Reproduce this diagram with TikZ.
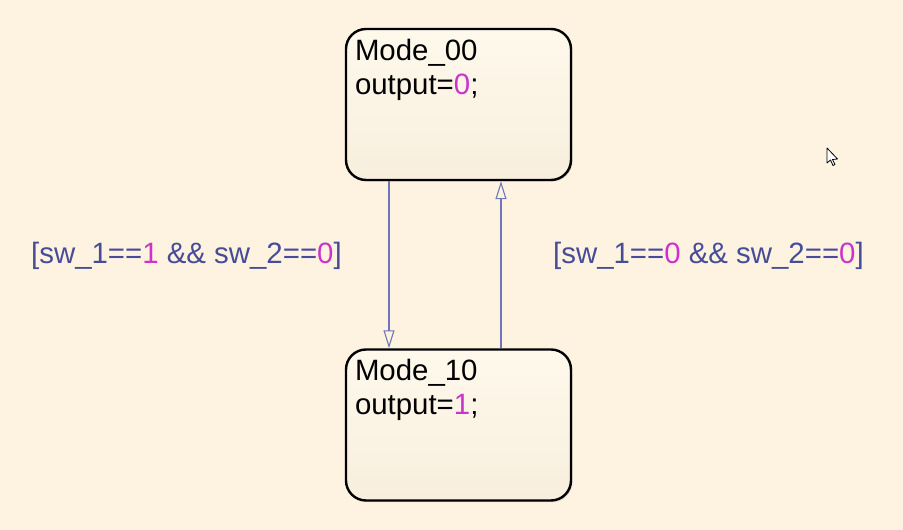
\documentclass[tikz,border=0pt]{standalone}
\usepackage{fontspec}
\setmainfont{Liberation Sans}
\usetikzlibrary{arrows.meta,shadows}
\definecolor{paper}{RGB}{254,243,224}
\definecolor{boxtop}{RGB}{255,249,236}
\definecolor{boxbot}{RGB}{247,238,221}
\definecolor{wire}{RGB}{112,118,184}
\definecolor{guard}{RGB}{70,76,152}
\definecolor{lit}{RGB}{204,51,204}
\newcommand{\figfontsize}{\fontsize{29.4}{34}\selectfont}
\newcommand{\lit}[1]{\textcolor{lit}{#1}}
\tikzset{
  every picture/.style = {font=\figfontsize, line join=round},
  state/.style  = {draw=black, line width=2.4pt, rounded corners=20pt,
                   minimum width=225pt, minimum height=151pt, inner sep=0pt,
                   top color=boxtop, bottom color=boxbot,
                   drop shadow={opacity=0.25, shadow xshift=1.5pt, shadow yshift=-1.5pt}},
  stext/.style  = {anchor=north west, align=left, inner sep=0pt, text=black},
  trans/.style  = {draw=wire, line width=1.2pt,
                   -{Triangle[open, length=18pt, width=11pt, line width=1.1pt]}},
  guardtxt/.style = {text=guard, inner sep=0pt, anchor=base west},
}

\begin{document}
\begin{tikzpicture}[x=1pt, y=-1pt]
  % page: 903 x 530, y runs downwards like the screenshot
  \useasboundingbox[fill=paper] (0,0) rectangle (903,530);

  % ---------- the two states ------------------------------------------------
  \node[state] (m00) at (458.5,104.5) {};
  \node[state] (m10) at (458.5,425)   {};
  \node[stext] (m00txt) at ([shift={(10,11)}]m00.north west) {Mode\_00\\output=\lit{0};};
  \node[stext] (m10txt) at ([shift={(10,11)}]m10.north west) {Mode\_10\\output=\lit{1};};

  % ---------- transitions ---------------------------------------------------
  \draw[trans] ([xshift=-69.5pt]m00.south) -- ([xshift=-69.5pt]m10.north);
  \draw[trans] ([xshift=42.5pt]m10.north) -- ([xshift=42.5pt]m00.south);

  \node[guardtxt] (g1) at (31,263)  {[sw\_1==\lit{1} \&\& sw\_2==\lit{0}]};
  \node[guardtxt] (g2) at (553,263) {[sw\_1==\lit{0} \&\& sw\_2==\lit{0}]};

  % mouse pointer
  \draw[fill=white, line width=0.8pt] (827,148) -- (827,163) -- (830.5,160) -- (833,165.5)
    -- (835,164.5) -- (832.5,159.5) -- (837.5,159) -- cycle;
\end{tikzpicture}
\end{document}
